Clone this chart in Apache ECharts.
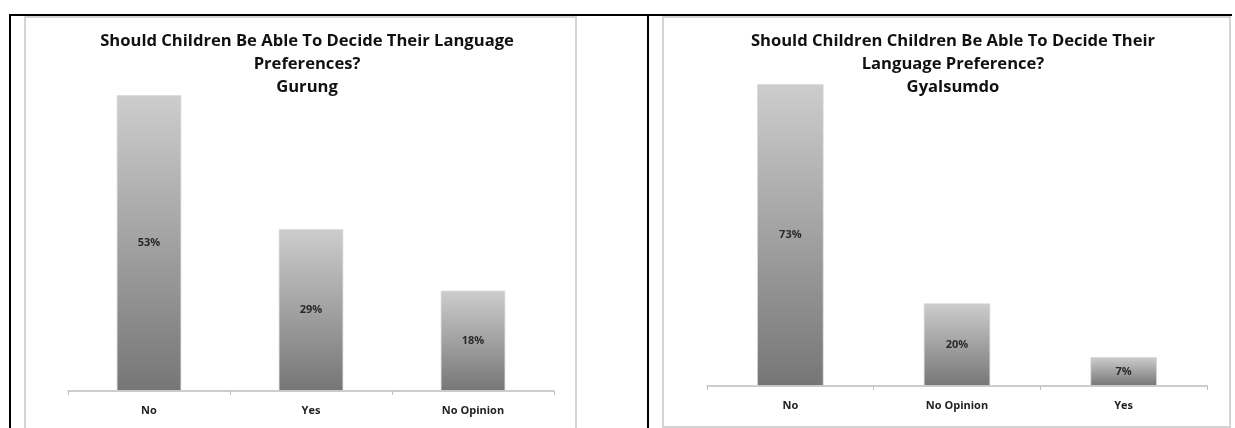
<!DOCTYPE html>
<html>
<head>
<meta charset="utf-8">
<script src="https://cdn.jsdelivr.net/npm/echarts@6/dist/echarts.min.js"></script>
<style>
  html, body { margin: 0; padding: 0; background: #fff; }
  #chart { width: 1235px; height: 428px; }
</style>
</head>
<body>
<div id="chart"></div>
<script>
// Gurung panel
const gurungCats = ['No', 'Yes', 'No Opinion'];
const gurungVals = [53, 29, 18];
// Gyalsumdo panel
const gyalCats = ['No', 'No Opinion', 'Yes'];
const gyalVals = [73, 20, 7];

const gurungTitle = 'Should Children Be Able To Decide Their Language\nPreferences?\nGurung';
const gyalTitle = 'Should Children Children Be Able To Decide Their\nLanguage Preference?\nGyalsumdo';

const fontFam = '"Open Sans", Lato, sans-serif';

let chart = echarts.init(document.getElementById('chart'), null, { renderer: 'canvas' });

// grey-to-dark fill, per bar
const barFill = new echarts.graphic.LinearGradient(0, 0, 0, 1, [
    { offset: 0, color: '#cdcdcd' },
    { offset: 1, color: '#767676' }
]);

function titleStyle() {
    return {
        fontFamily: fontFam,
        fontSize: 16.6,
        fontWeight: 'bold',
        color: '#111',
        lineHeight: 23
    };
}

function xAxisFor(cats, idx) {
    return {
        type: 'category',
        gridIndex: idx,
        data: cats,
        axisLine: { lineStyle: { color: '#bdbdbd', width: 1.5 } },
        axisTick: { show: true, length: 4, lineStyle: { color: '#bdbdbd' } },
        axisLabel: {
            margin: 14,
            fontFamily: fontFam,
            fontSize: 11,
            fontWeight: 'bold',
            color: '#222'
        }
    };
}

function barSeries(vals, idx) {
    return {
        type: 'bar',
        xAxisIndex: idx,
        yAxisIndex: idx,
        barWidth: '40%',
        itemStyle: {
            color: barFill,
            borderColor: 'rgba(215,215,215,0.7)',
            borderWidth: 1
        },
        label: {
            show: true,
            position: 'inside',
            formatter: '{c}%',
            fontFamily: fontFam,
            fontSize: 11,
            fontWeight: 'bold',
            color: '#2a2a2a'
        },
        silent: true,
        data: vals
    };
}

let option = {
    animation: false,
    title: [
        { text: gurungTitle, left: 302, top: 25, textAlign: 'center', textStyle: titleStyle() },
        { text: gyalTitle, left: 948, top: 25, textAlign: 'center', textStyle: titleStyle() }
    ],
    grid: [
        { left: 68, top: 56, width: 486, height: 335 },
        { left: 707, top: 55, width: 500, height: 331 }
    ],
    xAxis: [xAxisFor(gurungCats, 0), xAxisFor(gyalCats, 1)],
    yAxis: [
        { type: 'value', gridIndex: 0, min: 0, max: 60, show: false },
        { type: 'value', gridIndex: 1, min: 0, max: 80, show: false }
    ],
    series: [barSeries(gurungVals, 0), barSeries(gyalVals, 1)],
    graphic: [
        // chart frames
        { type: 'rect', shape: { x: 25, y: 17, width: 551, height: 420 }, style: { fill: 'none', stroke: '#d4d4d4', lineWidth: 2 }, silent: true },
        { type: 'rect', shape: { x: 663, y: 17, width: 567, height: 410 }, style: { fill: 'none', stroke: '#d4d4d4', lineWidth: 2 }, silent: true },
        // table lines
        { type: 'line', shape: { x1: 9, y1: 15, x2: 1232, y2: 15 }, style: { stroke: '#000', lineWidth: 2 }, silent: true },
        { type: 'line', shape: { x1: 10, y1: 14, x2: 10, y2: 428 }, style: { stroke: '#000', lineWidth: 2 }, silent: true },
        { type: 'line', shape: { x1: 648, y1: 14, x2: 648, y2: 428 }, style: { stroke: '#000', lineWidth: 2 }, silent: true }
    ]
};

chart.setOption(option);
</script>
</body>
</html>
